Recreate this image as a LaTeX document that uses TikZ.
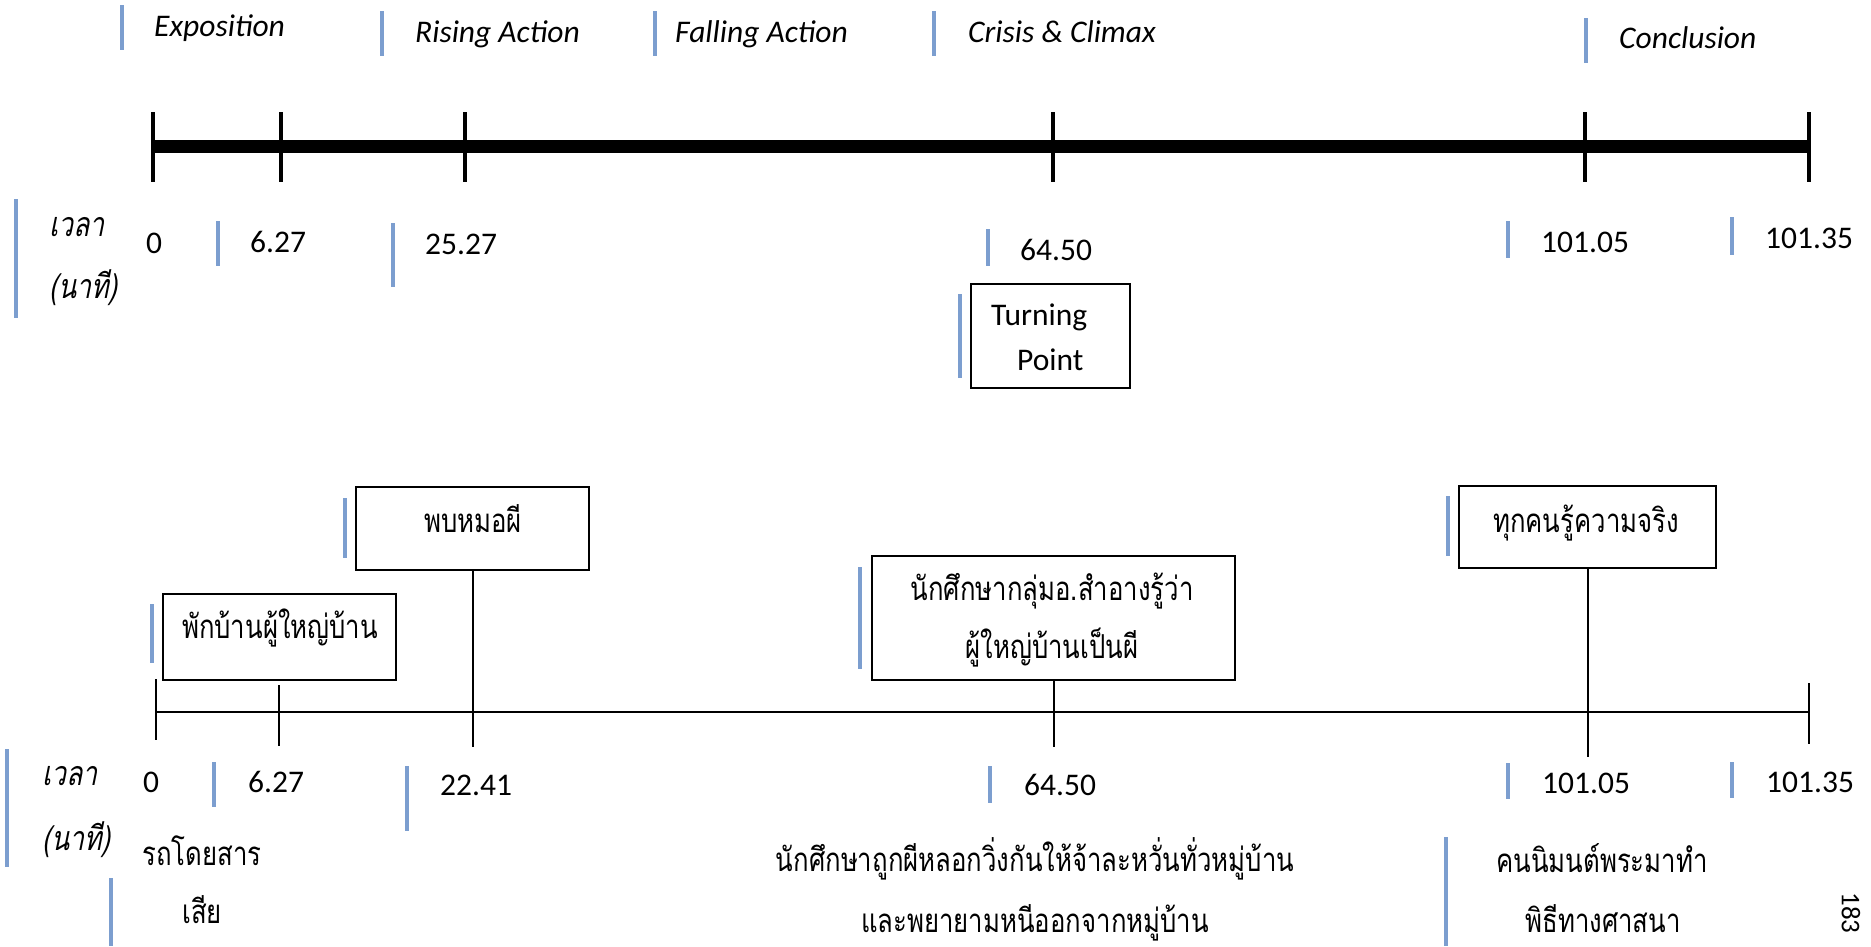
\documentclass[tikz,border=0pt]{standalone}
\usepackage{fontspec}
\setmainfont{Carlito}
\newfontfamily\thai[Script=Thai,FakeStretch=0.78]{Loma}
\newfontfamily\thaiit[Script=Thai,FakeStretch=0.78,FakeSlant=0.2]{Loma}
\definecolor{cursorblue}{RGB}{124,158,207}

\begin{document}
\begin{tikzpicture}[x=1pt,y=-1pt,
  bluebar/.style={draw=cursorblue,line width=4pt},
  lat/.style={font=\fontsize{31.5}{31.5}\selectfont,inner sep=0pt,anchor=base west},
  latit/.style={font=\fontsize{31.5}{31.5}\selectfont\itshape,inner sep=0pt,anchor=base west},
  th/.style={font=\fontsize{33}{33}\thai,inner sep=0pt,anchor=base},
  thit/.style={font=\fontsize{34}{34}\thaiit,inner sep=0pt,anchor=base west},
  evbox/.style={draw,line width=2pt,rectangle,inner sep=0pt},
  bigbar/.style={line width=13pt},
  bigtick/.style={line width=3.5pt},
  thinbar/.style={line width=2.5pt},
  thintick/.style={line width=2pt}]
\useasboundingbox (0,0) rectangle (1871,946);

% ---------- phase headings ----------
\draw[bluebar] (122,5) -- (122,50);
\node[latit] (hexp) at (154,36) {Exposition};
\draw[bluebar] (382,11) -- (382,56);
\node[latit] (hris) at (415,42) {Rising Action};
\draw[bluebar] (655,11) -- (655,56);
\node[latit] (hfal) at (675,42) {Falling Action};
\draw[bluebar] (934,11) -- (934,56);
\node[latit] (hcri) at (968,42) {Crisis \& Climax};
\draw[bluebar] (1586,18) -- (1586,63);
\node[latit] (hcon) at (1619,48) {Conclusion};

% ---------- structure timeline ----------
\coordinate (t0) at (153,146);
\coordinate (t1) at (281,146);
\coordinate (t2) at (465,146);
\coordinate (t3) at (1053,146);
\coordinate (t4) at (1585,146);
\coordinate (t5) at (1809,146);
\draw[bigbar] (t0) -- (t5);
\foreach \p in {t0,t1,t2,t3,t4,t5}
  \draw[bigtick] (\p) ++(0,-34) -- ++(0,70);

% time labels, upper row
\draw[bluebar] (16,199) -- (16,318);
\node[thit] (ttime) at (49,236) {เวลา};
\node[thit] (tmin) at (49,298) {(นาที)};
\node[lat] (tn0) at (146,253) {0};
\draw[bluebar] (218,221) -- (218,266);
\node[lat] (tn1) at (250,252) {6.27};
\draw[bluebar] (393,223) -- (393,287);
\node[lat] (tn2) at (425,254) {25.27};
\draw[bluebar] (988,229) -- (988,266);
\node[lat] (tn3) at (1020,260) {64.50};
\draw[bluebar] (1508,221) -- (1508,258);
\node[lat] (tn4) at (1541,252) {101.05};
\draw[bluebar] (1732,217) -- (1732,255);
\node[lat] (tn5) at (1765,248) {101.35};

% turning point
\node[evbox,minimum width=159pt,minimum height=104pt] (turn) at (1050.5,336) {};
\draw[bluebar] (960,294) -- (960,378);
\node[lat] (turn1) at (991,325) {Turning};
\node[lat] (turn2) at (1017,370) {Point};

% ---------- story timeline ----------
\coordinate (b0) at (156,712);
\coordinate (b1) at (279,712);
\coordinate (b5) at (1809,712);
\draw[thinbar] (b0) -- (b5);
\draw[thintick] (b0) ++(0,-33) -- ++(0,61);
\draw[thintick] (b1) ++(0,-27) -- ++(0,61);
\draw[thintick] (b5) ++(0,-29) -- ++(0,61);

% events
\node[evbox,minimum width=233pt,minimum height=86pt] (stay) at (279.5,637) {};
\draw[bluebar] (152,604) -- (152,663);
\node[th] (staytx) at (280,638) {พักบ้านผู้ใหญ่บ้าน};

\node[evbox,minimum width=233pt,minimum height=83pt] (meet) at (472.5,528.5) {};
\draw[bluebar] (345,498) -- (345,558);
\node[th] (meettx) at (473,532) {พบหมอผี};
\coordinate (e2) at (472.5,747);
\draw[thintick] (meet.south) -- (e2);

\node[evbox,minimum width=363pt,minimum height=124pt] (know) at (1053.5,618) {};
\draw[bluebar] (860,567) -- (860,669);
\node[th] (knowtx1) at (1052,600) {นักศึกษากลุ่มอ.สำอางรู้ว่า};
\node[th] (knowtx2) at (1052,658) {ผู้ใหญ่บ้านเป็นผี};
\coordinate (e3) at (1053.5,747);
\draw[thintick] (know.south) -- (e3);

\node[evbox,minimum width=257pt,minimum height=82pt] (truth) at (1587.5,527) {};
\draw[bluebar] (1448,496) -- (1448,556);
\node[th] (truthtx) at (1586,532) {ทุกคนรู้ความจริง};
\coordinate (e4) at (1587.5,757);
\draw[thintick] (truth.south) -- (e4);

% time labels, lower row
\draw[bluebar] (7,749) -- (7,867);
\node[thit] (btime) at (42,785) {เวลา};
\node[thit] (bmin) at (42,850) {(นาที)};
\node[lat] (bn0) at (143,792) {0};
\draw[bluebar] (214,762) -- (214,807);
\node[lat] (bn1) at (248,792) {6.27};
\draw[bluebar] (407,766) -- (407,831);
\node[lat] (bn2) at (440,795) {22.41};
\draw[bluebar] (990,766) -- (990,803);
\node[lat] (bn3) at (1024,795) {64.50};
\draw[bluebar] (1508,763) -- (1508,799);
\node[lat] (bn4) at (1542,793) {101.05};
\draw[bluebar] (1732,762) -- (1732,798);
\node[lat] (bn5) at (1766,792) {101.35};

% captions under the story timeline
\node[th] (bus1) at (202,865) {รถโดยสาร};
\draw[bluebar] (111,878) -- (111,946);
\node[th] (bus2) at (202,923) {เสีย};

\node[th] (flee1) at (1035,871) {นักศึกษาถูกผีหลอกวิ่งกันให้จ้าละหวั่นทั่วหมู่บ้าน};
\node[th] (flee2) at (1035,932) {และพยายามหนีออกจากหมู่บ้าน};

\draw[bluebar] (1446,837) -- (1446,946);
\node[th] (rite1) at (1602,872) {คนนิมนต์พระมาทำ};
\node[th] (rite2) at (1603,932) {พิธีทางศาสนา};

% page number
\node[font=\fontsize{27}{27}\selectfont,inner sep=0pt,rotate=-90] (page) at (1851,913) {183};
\end{tikzpicture}
\end{document}
